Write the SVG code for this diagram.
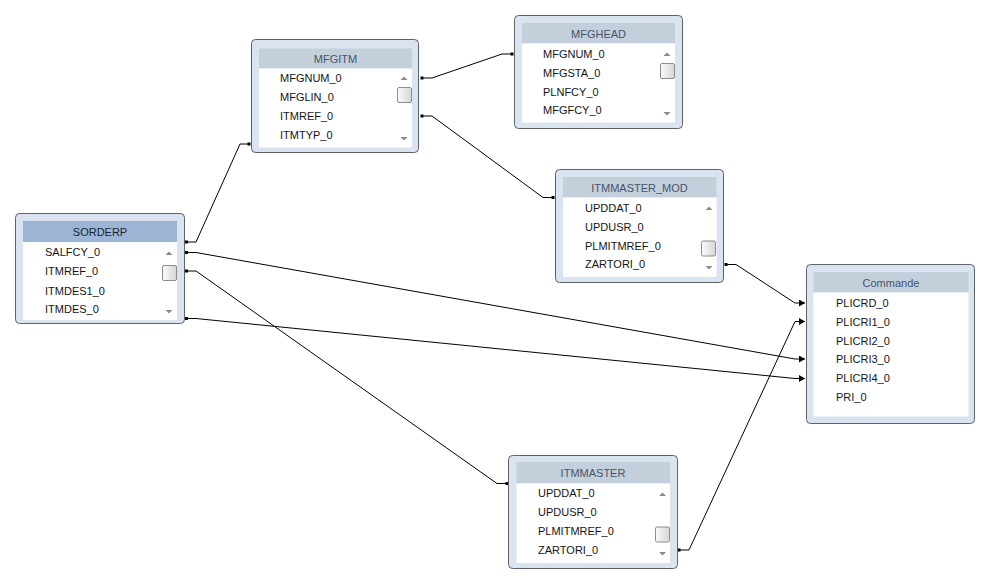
<svg xmlns="http://www.w3.org/2000/svg" width="988" height="578" viewBox="0 0 988 578">
<defs>
<style>
.frame{fill:#d9e4f0;stroke:#5f6368;stroke-width:1}
.hdr{fill:#c4cfdc}
.hdrsel{fill:#9db5d4}
.list{fill:#ffffff}
.ht{font-family:"Liberation Sans",Arial,sans-serif;font-size:11px;fill:#46546a;text-anchor:middle}
.htsel{font-family:"Liberation Sans",Arial,sans-serif;font-size:11px;fill:#1b2533;text-anchor:middle}
.ft{font-family:"Liberation Sans",Arial,sans-serif;font-size:11px;fill:#141414}
.thumb{fill:url(#tg);stroke:#8c8c8c;stroke-width:1}
.arr{fill:#8a8a8a}
.conn{fill:none;stroke:#000;stroke-width:1}
.dot{fill:#000}
</style>
<linearGradient id="tg" x1="0" y1="0" x2="1" y2="0">
<stop offset="0" stop-color="#fbfbfb"/>
<stop offset="1" stop-color="#d6d6d6"/>
</linearGradient>
<marker id="ah" viewBox="0 0 6 7" refX="6" refY="3.5" markerWidth="6" markerHeight="7" markerUnits="userSpaceOnUse" orient="auto">
<path d="M0,0 L6,3.5 L0,7 Z" fill="#000"/>
</marker>
</defs>
<rect width="988" height="578" fill="#ffffff"/>

<g id="connectors">
<path class="conn" d="M186,242 H196 L240,144 H249"/>
<path class="conn" d="M422,78 H432 L502,54 H512"/>
<path class="conn" d="M422,116 H432 L543,197.5 H553"/>
<path class="conn" d="M726,264.5 H736 L795,303 H805" marker-end="url(#ah)"/>
<path class="conn" d="M186,252.5 H196 L795,359 H805" marker-end="url(#ah)"/>
<path class="conn" d="M186,271 H196 L497,483.5 H507"/>
<path class="conn" d="M186,318.5 H196 L795,378.5 H805" marker-end="url(#ah)"/>
<path class="conn" d="M679,550 H689 L795,321.5 H805" marker-end="url(#ah)"/>
<rect class="dot" x="185" y="240.5" width="3" height="3"/>
<rect class="dot" x="185" y="251" width="3" height="3"/>
<rect class="dot" x="185" y="269.5" width="3" height="3"/>
<rect class="dot" x="185" y="317" width="3" height="3"/>
<rect class="dot" x="247.5" y="142.5" width="3" height="3"/>
<rect class="dot" x="420.5" y="76.5" width="3" height="3"/>
<rect class="dot" x="420.5" y="114.5" width="3" height="3"/>
<rect class="dot" x="510.5" y="52.5" width="3" height="3"/>
<rect class="dot" x="551.5" y="196" width="3" height="3"/>
<rect class="dot" x="724.5" y="263" width="3" height="3"/>
<rect class="dot" x="505.5" y="482" width="3" height="3"/>
<rect class="dot" x="677.5" y="548.5" width="3" height="3"/>
</g>

<g id="SORDERP">
<rect class="frame" x="15.5" y="213.5" width="169" height="110" rx="4"/>
<rect class="hdrsel" x="23" y="221" width="154" height="21"/>
<text class="htsel" x="100" y="235.5">SORDERP</text>
<rect class="list" x="23" y="242" width="154" height="78"/>
<text class="ft" x="45" y="256">SALFCY_0</text>
<text class="ft" x="45" y="275">ITMREF_0</text>
<text class="ft" x="45" y="294.5">ITMDES1_0</text>
<text class="ft" x="45" y="313">ITMDES_0</text>
<path class="arr" d="M165.5,255 L169,251.5 L172.5,255 Z"/>
<rect class="thumb" x="162.5" y="265.5" width="14" height="15" rx="1.5"/>
<path class="arr" d="M165.5,310 L169,313.5 L172.5,310 Z"/>
</g>

<g id="MFGITM">
<rect class="frame" x="251.5" y="39.5" width="167" height="113" rx="4"/>
<rect class="hdr" x="259" y="48.5" width="153" height="20"/>
<text class="ht" x="335.5" y="62.5">MFGITM</text>
<rect class="list" x="259" y="68.5" width="153" height="79"/>
<text class="ft" x="280" y="82">MFGNUM_0</text>
<text class="ft" x="280" y="101">MFGLIN_0</text>
<text class="ft" x="280" y="120">ITMREF_0</text>
<text class="ft" x="280" y="139">ITMTYP_0</text>
<path class="arr" d="M400.5,80 L404,76.5 L407.5,80 Z"/>
<rect class="thumb" x="397.5" y="87.5" width="14" height="15" rx="1.5"/>
<path class="arr" d="M400.5,137 L404,140.5 L407.5,137 Z"/>
</g>

<g id="MFGHEAD">
<rect class="frame" x="514.5" y="15.5" width="168" height="113" rx="4"/>
<rect class="hdr" x="522" y="23" width="153" height="20.5"/>
<text class="ht" x="598.5" y="37.5">MFGHEAD</text>
<rect class="list" x="522" y="43.5" width="153" height="79"/>
<text class="ft" x="543" y="58">MFGNUM_0</text>
<text class="ft" x="543" y="77">MFGSTA_0</text>
<text class="ft" x="543" y="95.5">PLNFCY_0</text>
<text class="ft" x="543" y="114">MFGFCY_0</text>
<path class="arr" d="M663.5,56 L667,52.5 L670.5,56 Z"/>
<rect class="thumb" x="660.5" y="63.5" width="14" height="15" rx="1.5"/>
<path class="arr" d="M663.5,112 L667,115.5 L670.5,112 Z"/>
</g>

<g id="ITMMASTER_MOD">
<rect class="frame" x="555.5" y="169.5" width="168" height="113" rx="4"/>
<rect class="hdr" x="563" y="177" width="153.5" height="20.5"/>
<text class="ht" x="639.5" y="191.5">ITMMASTER_MOD</text>
<rect class="list" x="563" y="197.5" width="153.5" height="79.5"/>
<text class="ft" x="585" y="211.5">UPDDAT_0</text>
<text class="ft" x="585" y="230.5">UPDUSR_0</text>
<text class="ft" x="585" y="249.5">PLMITMREF_0</text>
<text class="ft" x="585" y="268">ZARTORI_0</text>
<path class="arr" d="M705.5,210 L709,206.5 L712.5,210 Z"/>
<rect class="thumb" x="701.5" y="241" width="14" height="15" rx="1.5"/>
<path class="arr" d="M705.5,266 L709,269.5 L712.5,266 Z"/>
</g>

<g id="Commande">
<rect class="frame" x="806.5" y="264.5" width="168" height="159" rx="4"/>
<rect class="hdr" x="813.5" y="272" width="155" height="20.5"/>
<text class="ht" x="891" y="286.5">Commande</text>
<rect class="list" x="813.5" y="292.5" width="155" height="124"/>
<text class="ft" x="836" y="306.5">PLICRD_0</text>
<text class="ft" x="836" y="325.5">PLICRI1_0</text>
<text class="ft" x="836" y="344.5">PLICRI2_0</text>
<text class="ft" x="836" y="363">PLICRI3_0</text>
<text class="ft" x="836" y="382">PLICRI4_0</text>
<text class="ft" x="836" y="401">PRI_0</text>
</g>

<g id="ITMMASTER">
<rect class="frame" x="508.5" y="455.5" width="169" height="113" rx="4"/>
<rect class="hdr" x="516.5" y="462" width="153.5" height="21.5"/>
<text class="ht" x="593" y="476.5">ITMMASTER</text>
<rect class="list" x="516.5" y="483.5" width="153.5" height="79.5"/>
<text class="ft" x="538" y="497">UPDDAT_0</text>
<text class="ft" x="538" y="516">UPDUSR_0</text>
<text class="ft" x="538" y="535">PLMITMREF_0</text>
<text class="ft" x="538" y="554">ZARTORI_0</text>
<path class="arr" d="M659,496 L662.5,492.5 L666,496 Z"/>
<rect class="thumb" x="655.5" y="527" width="14" height="15" rx="1.5"/>
<path class="arr" d="M659,552 L662.5,555.5 L666,552 Z"/>
</g>
</svg>
